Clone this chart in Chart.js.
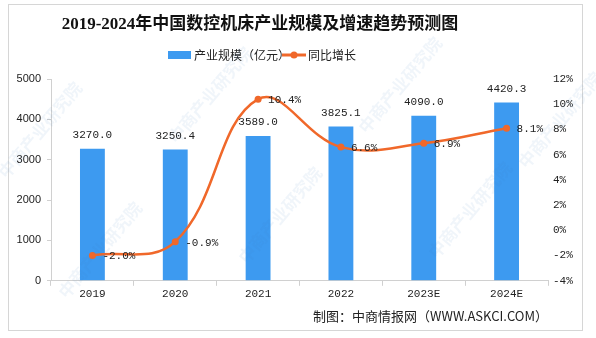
<!DOCTYPE html>
<html>
<head>
<meta charset="utf-8">
<script src="https://cdn.jsdelivr.net/npm/chart.js@4/dist/chart.umd.min.js"></script>
<style>
  html, body { margin: 0; padding: 0; background: #fff; }
  #wrap { width: 596px; height: 338px; }
</style>
</head>
<body>
<div id="wrap"><canvas id="chart"></canvas></div>
<script>
// chart data
const years = ['2019', '2020', '2021', '2022', '2023E', '2024E'];
const scaleValues = [3270.0, 3250.4, 3589.0, 3825.1, 4090.0, 4420.3];
const growthValues = [-2.0, -0.9, 10.4, 6.6, 6.9, 8.1];
const leftTicks = [0, 1000, 2000, 3000, 4000, 5000];
const rightTicks = [-4, -2, 0, 2, 4, 6, 8, 10, 12];

const titleText = '2019-2024年中国数控机床产业规模及增速趋势预测图';
const sourceText = '制图：中商情报网（WWW.ASKCI.COM）';
const barColor = '#3d9af0';
const lineColor = '#f0682a';

// frame, title, legend, labels, watermark
const decor = {
    id: 'decor',
    beforeDraw(chart) {
        const c = chart.ctx;
        c.save();
        c.fillStyle = '#fff';
        c.fillRect(0, 0, chart.width, chart.height);
        c.strokeStyle = '#d6d6d6';
        c.lineWidth = 1;
        c.strokeRect(8.5, 4.5, 574, 326);
        c.restore();
    },
    afterDatasetsDraw(chart) {
        const c = chart.ctx;
        c.save();
        // bar value labels
        c.font = '11px "Liberation Mono", "DejaVu Sans Mono", monospace';
        c.fillStyle = '#222';
        c.textAlign = 'center';
        c.textBaseline = 'bottom';
        chart.getDatasetMeta(0).data.forEach((bar, i) => {
            c.fillText(scaleValues[i].toFixed(1), bar.x, bar.y - 8);
        });
        // line labels
        c.textAlign = 'left';
        c.textBaseline = 'middle';
        chart.getDatasetMeta(1).data.forEach((pt, i) => {
            c.fillText(growthValues[i].toFixed(1) + '%', pt.x + 10, pt.y + 1);
        });
        c.restore();
    },
    afterDraw(chart) {
        const c = chart.ctx;
        c.save();
        // title
        c.font = 'bold 17px "Liberation Serif", "Noto Sans CJK SC", serif';
        c.fillStyle = '#111';
        c.textAlign = 'center';
        c.textBaseline = 'middle';
        c.fillText(titleText, 260, 25);
        // legend
        c.fillStyle = barColor;
        c.fillRect(168, 51, 23, 8);
        c.font = '12px "Noto Sans CJK SC", sans-serif';
        c.fillStyle = '#222';
        c.textAlign = 'left';
        c.fillText('产业规模（亿元）', 194, 55);
        c.strokeStyle = lineColor;
        c.lineWidth = 3;
        c.beginPath();
        c.moveTo(282, 55);
        c.lineTo(306, 55);
        c.stroke();
        c.fillStyle = lineColor;
        c.beginPath();
        c.arc(294, 55, 3.5, 0, Math.PI * 2);
        c.fill();
        c.fillStyle = '#222';
        c.fillText('同比增长', 308, 55);
        // source
        c.font = '13px "Noto Sans CJK SC", sans-serif';
        c.textAlign = 'right';
        c.fillStyle = '#222';
        c.fillText(sourceText, 548, 316);
        // watermark
        c.font = 'bold 17px "Noto Sans CJK SC", sans-serif';
        c.fillStyle = 'rgba(70, 130, 190, 0.08)';
        c.textAlign = 'center';
        const marks = [[40, 130], [210, 95], [400, 85], [560, 120],
                       [100, 250], [280, 215], [470, 210]];
        marks.forEach(([x, y]) => {
            c.save();
            c.translate(x, y);
            c.rotate(-Math.PI / 3.6);
            c.fillText('中商产业研究院', 0, 0);
            c.restore();
        });
        c.restore();
    }
};

const ctx = document.getElementById('chart').getContext('2d');
new Chart(ctx, {
    type: 'bar',
    data: {
        labels: years,
        datasets: [{
            label: '产业规模（亿元）',
            data: scaleValues,
            backgroundColor: barColor,
            barPercentage: 0.6,
            categoryPercentage: 0.5,
            yAxisID: 'y',
            order: 2
        }, {
            type: 'line',
            label: '同比增长',
            data: growthValues,
            borderColor: lineColor,
            backgroundColor: lineColor,
            borderWidth: 2.5,
            pointRadius: 3.5,
            pointBackgroundColor: lineColor,
            pointBorderWidth: 0,
            tension: 0.4,
            yAxisID: 'y1',
            order: 1
        }]
    },
    options: {
        responsive: true,
        maintainAspectRatio: false,
        animation: false,
        layout: { padding: { top: 79, bottom: 35, left: 0, right: 0 } },
        plugins: {
            legend: { display: false },
            title: { display: false },
            tooltip: { enabled: false }
        },
        scales: {
            x: {
                offset: true,
                grid: { display: true, drawOnChartArea: false, tickLength: 5, color: '#d0d0d0' },
                border: { color: '#d0d0d0' },
                ticks: { color: '#222', font: { size: 11, family: '"Liberation Mono", monospace' }, padding: 2 }
            },
            y: {
                position: 'left',
                min: 0, max: 5000,
                afterBuildTicks(scale) { scale.ticks = leftTicks.map(v => ({ value: v })); },
                afterFit(scale) { scale.width = 51; },
                grid: { display: true, drawOnChartArea: false, tickLength: 4, color: '#d0d0d0' },
                border: { color: '#d0d0d0' },
                ticks: {
                    color: '#222',
                    font: { size: 11, family: '"Liberation Sans", sans-serif' },
                    padding: 6,
                    callback: v => String(v)
                }
            },
            y1: {
                position: 'right',
                min: -4, max: 12,
                afterBuildTicks(scale) { scale.ticks = rightTicks.map(v => ({ value: v })); },
                afterFit(scale) { scale.width = 48; },
                grid: { display: false, drawTicks: false },
                border: { display: false },
                ticks: {
                    color: '#222',
                    font: { size: 11, family: '"Liberation Mono", monospace' },
                    padding: 5,
                    callback: v => v + '%'
                }
            }
        }
    },
    plugins: [decor]
});
</script>
</body>
</html>
